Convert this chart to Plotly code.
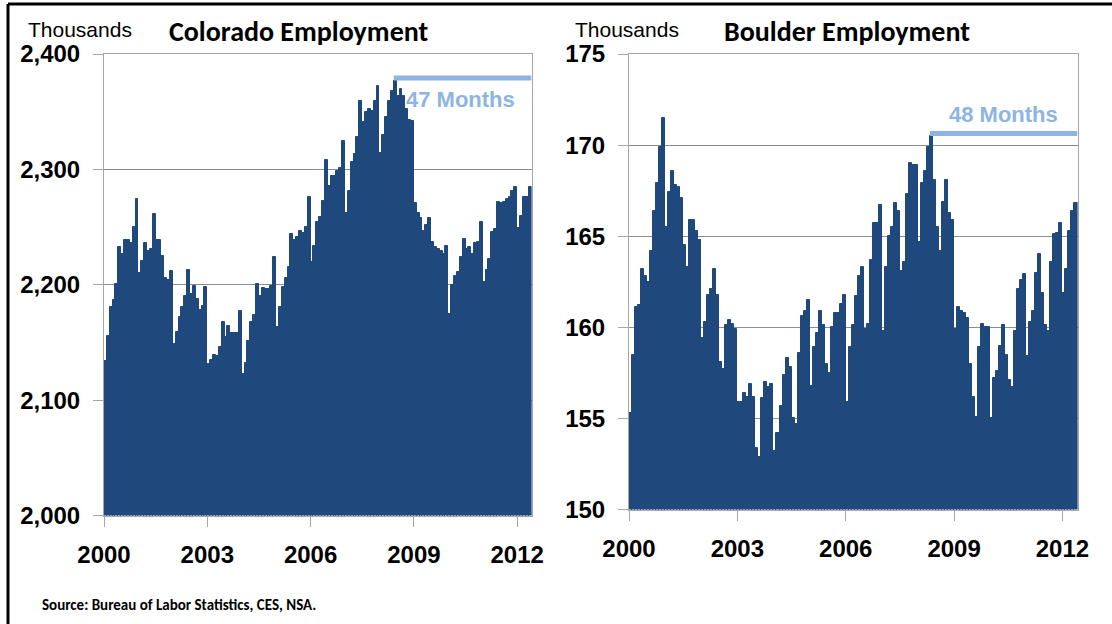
import numpy as np
import plotly.graph_objects as go

W, H = 1112, 624

# Monthly nonfarm employment, thousands (not seasonally adjusted), Jan 2000 - May 2012
year_labels = ["2000", "2003", "2006", "2009", "2012"]

colorado_2000 = [2134, 2156, 2181, 2187, 2201, 2233, 2227, 2239, 2239, 2236, 2250, 2274]
colorado_2001 = [2210, 2221, 2236, 2229, 2231, 2261, 2239, 2239, 2225, 2206, 2204, 2212]
colorado_2002 = [2149, 2159, 2172, 2181, 2190, 2213, 2192, 2199, 2188, 2178, 2182, 2198]
colorado_2003 = [2131, 2135, 2139, 2138, 2146, 2168, 2155, 2164, 2158, 2158, 2158, 2177]
colorado_2004 = [2123, 2132, 2151, 2168, 2174, 2201, 2190, 2197, 2196, 2196, 2199, 2224]
colorado_2005 = [2163, 2181, 2198, 2206, 2215, 2244, 2239, 2241, 2247, 2245, 2250, 2276]
colorado_2006 = [2220, 2234, 2254, 2259, 2273, 2308, 2286, 2294, 2294, 2299, 2301, 2325]
colorado_2007 = [2262, 2281, 2306, 2313, 2328, 2359, 2341, 2350, 2352, 2351, 2359, 2372]
colorado_2008 = [2314, 2330, 2345, 2359, 2368, 2377, 2364, 2370, 2364, 2352, 2343, 2342]
colorado_2009 = [2271, 2262, 2258, 2247, 2252, 2258, 2237, 2233, 2231, 2229, 2227, 2234]
colorado_2010 = [2175, 2200, 2208, 2211, 2224, 2240, 2231, 2233, 2227, 2236, 2237, 2254]
colorado_2011 = [2202, 2213, 2222, 2246, 2248, 2272, 2271, 2272, 2274, 2276, 2281, 2285]
colorado_2012 = [2249, 2260, 2276, 2276, 2285]

boulder_2000 = [155.3, 158.5, 161.1, 161.2, 163.2, 162.8, 162.5, 164.2, 166.4, 167.9, 169.9, 171.5]
boulder_2001 = [165.5, 167.4, 168.6, 167.8, 167.7, 167.1, 164.5, 163.3, 165.9, 165.9, 165.3, 164.8]
boulder_2002 = [159.4, 160.3, 161.8, 162.1, 163.2, 161.8, 158.1, 157.7, 160.1, 160.4, 160.2, 159.9]
boulder_2003 = [155.9, 155.9, 156.4, 156.2, 156.9, 156.2, 153.4, 152.9, 156.1, 157.0, 156.7, 156.9]
boulder_2004 = [153.2, 154.2, 155.7, 157.4, 158.3, 157.8, 155.0, 154.7, 158.6, 160.6, 160.9, 161.5]
boulder_2005 = [156.8, 158.9, 159.7, 160.9, 160.1, 158.0, 157.5, 160.0, 160.8, 160.8, 161.3, 161.8]
boulder_2006 = [155.9, 158.9, 160.1, 161.7, 162.8, 163.3, 159.9, 160.2, 163.7, 165.7, 165.7, 166.7]
boulder_2007 = [159.8, 163.3, 165.0, 165.5, 166.8, 166.4, 163.1, 163.6, 167.3, 169.0, 168.9, 168.9]
boulder_2008 = [164.7, 167.9, 168.6, 169.9, 170.5, 168.1, 165.5, 164.2, 166.9, 168.1, 166.3, 165.9]
boulder_2009 = [159.9, 161.1, 160.9, 160.8, 160.5, 158.0, 156.2, 155.1, 158.9, 160.2, 160.0, 160.0]
boulder_2010 = [155.0, 157.2, 157.6, 159.0, 160.1, 158.5, 157.1, 156.7, 159.8, 162.1, 162.6, 162.9]
boulder_2011 = [158.4, 160.3, 160.9, 163.0, 164.0, 161.9, 160.1, 159.8, 163.6, 165.1, 165.2, 165.7]
boulder_2012 = [161.9, 163.2, 165.3, 166.4, 166.8]

colorado = (colorado_2000 + colorado_2001 + colorado_2002 + colorado_2003 + colorado_2004
            + colorado_2005 + colorado_2006 + colorado_2007 + colorado_2008 + colorado_2009
            + colorado_2010 + colorado_2011 + colorado_2012)
boulder = (boulder_2000 + boulder_2001 + boulder_2002 + boulder_2003 + boulder_2004
           + boulder_2005 + boulder_2006 + boulder_2007 + boulder_2008 + boulder_2009
           + boulder_2010 + boulder_2011 + boulder_2012)

months = np.arange(len(colorado))
last = len(colorado) - 1

# Pre-recession peaks (search the 2005 onward cycle)
cycle_start = 60
co_peak = int(np.argmax(colorado[cycle_start:])) + cycle_start
bo_peak = int(np.argmax(boulder[cycle_start:])) + cycle_start

BAR = "#1F497D"
PEAK = "#8DB4E2"
GRID = "#8C8C8C"
FRAME = "#A6A6A6"
SANS = "Liberation Sans, Arial, sans-serif"
TITLE_FONT = "Carlito, Calibri, Lato, sans-serif"


def fx(px):
    return px / W


def fy(py):
    return 1 - py / H


fig = go.Figure()
fig.add_trace(go.Bar(x=months, y=colorado, marker=dict(color=BAR, line=dict(color=BAR, width=1)),
                     xaxis="x", yaxis="y", hoverinfo="y"))
fig.add_trace(go.Bar(x=months, y=boulder, marker=dict(color=BAR, line=dict(color=BAR, width=1)),
                     xaxis="x2", yaxis="y2", hoverinfo="y"))

tickvals = [-0.5 + 36 * k for k in range(len(year_labels))]

common_x = dict(range=[-0.5, last + 0.5], tickvals=tickvals, ticktext=year_labels,
                ticks="outside", ticklen=10, tickcolor=FRAME, showline=True, mirror=True,
                linecolor=FRAME, linewidth=1, showgrid=False, zeroline=False, automargin=False,
                tickfont=dict(family=SANS, size=24, color="#000000", weight="bold"),
                ticklabelstandoff=8)
common_y = dict(ticks="outside", ticklen=10, tickcolor=FRAME, showline=True, mirror=True,
                linecolor=FRAME, linewidth=1, showgrid=True, gridcolor=GRID, gridwidth=1,
                zeroline=False, automargin=False,
                tickfont=dict(family=SANS, size=24, color="#000000", weight="bold"),
                ticklabelstandoff=8)

fig.update_layout(
    width=W, height=H,
    margin=dict(l=0, r=0, t=0, b=0, autoexpand=False),
    paper_bgcolor="white", plot_bgcolor="white",
    showlegend=False, bargap=0,
    xaxis=dict(domain=[fx(104), fx(531.5)], anchor="y", **common_x),
    yaxis=dict(domain=[fy(515.5), fy(54)], anchor="x", range=[2000, 2400], dtick=100,
               tickformat=",", **common_y),
    xaxis2=dict(domain=[fx(629), fx(1077.5)], anchor="y2", **common_x),
    yaxis2=dict(domain=[fy(509.5), fy(54)], anchor="x2", range=[150, 175], dtick=5, **common_y),
)

# Peak-to-latest markers
for xa, ya, peak, series in (("x", "y", co_peak, colorado), ("x2", "y2", bo_peak, boulder)):
    fig.add_shape(type="rect", xref=xa, yref=ya, x0=peak - 0.5, x1=last + 0.5,
                  ysizemode="pixel", yanchor=series[peak], y0=0, y1=5,
                  fillcolor=PEAK, line=dict(width=0), layer="above")

fig.add_annotation(xref="x", yref="y", x=143.5, y=colorado[co_peak], xanchor="right", yanchor="top",
                   yshift=-4, showarrow=False, text=f"<b>{last - co_peak} Months</b>",
                   font=dict(family=SANS, size=22, color=PEAK))
fig.add_annotation(xref="x2", yref="y2", x=142.7, y=boulder[bo_peak], xanchor="right", yanchor="bottom",
                   yshift=7, showarrow=False, text=f"<b>{last - bo_peak} Months</b>",
                   font=dict(family=SANS, size=22, color=PEAK))

# Headers
for x_units, x_title, title in ((26, 167, "Colorado Employment"), (573, 722, "Boulder Employment")):
    fig.add_annotation(xref="paper", yref="paper", x=fx(x_units), y=fy(29), xanchor="left",
                       yanchor="middle", showarrow=False, text="Thousands",
                       font=dict(family=SANS, size=21, color="#000000"))
    fig.add_annotation(xref="paper", yref="paper", x=fx(x_title), y=fy(31), xanchor="left",
                       yanchor="middle", showarrow=False, text=f"<b>{title}</b>",
                       font=dict(family=TITLE_FONT, size=28, color="#000000"))

fig.add_annotation(xref="paper", yref="paper", x=fx(40), y=fy(605), xanchor="left", yanchor="middle",
                   showarrow=False, text="<b>Source: Bureau of Labor Statistics, CES, NSA.</b>",
                   font=dict(family=TITLE_FONT, size=15, color="#000000"))

# Outer frame (top and left edges)
fig.add_shape(type="line", xref="paper", yref="paper", x0=fx(8), x1=1, y0=fy(4), y1=fy(4),
              line=dict(color="#000000", width=3))
fig.add_shape(type="line", xref="paper", yref="paper", x0=fx(8), x1=fx(8), y0=fy(4), y1=0,
              line=dict(color="#000000", width=3))

fig.write_html("out.html")
